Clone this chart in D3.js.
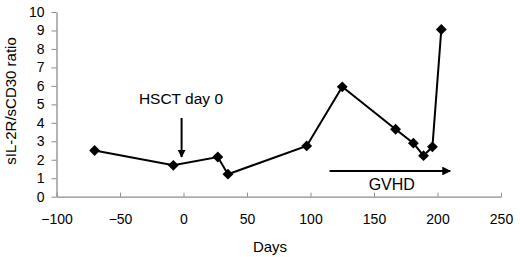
<!DOCTYPE html>
<html>
<head>
<meta charset="utf-8">
<script src="https://cdn.jsdelivr.net/npm/d3@7.9.0/dist/d3.min.js"></script>
<style>
  body { margin: 0; background: #fff; }
  svg { display: block; font-family: Arial, "Liberation Sans", sans-serif; }
</style>
</head>
<body>
<div id="chart"></div>
<script>
const days = [-70, -8, 27, 35, 97, 125, 167, 181, 189, 196, 203];
const ratios = [2.5, 1.7, 2.15, 1.22, 2.75, 5.95, 3.65, 2.9, 2.22, 2.7, 9.05];
const xTicks = [-100, -50, 0, 50, 100, 150, 200, 250];
const yTicks = [0, 1, 2, 3, 4, 5, 6, 7, 8, 9, 10];

const W = 520, H = 257;
const svg = d3.select("#chart").append("svg")
    .attr("width", W)
    .attr("height", H);

const x = d3.scaleLinear().domain([-100, 250]).range([56.5, 501]);
const y = d3.scaleLinear().domain([0, 10]).range([196.7, 12]);

const axisColor = "#8c8c8c";

// x axis (ticks point inward)
const gx = svg.append("g")
    .attr("transform", `translate(0,${y(0)})`)
    .call(d3.axisBottom(x).tickValues(xTicks).tickSizeInner(-4).tickSizeOuter(0)
        .tickFormat(d => d < 0 ? "\u2212" + Math.abs(d) : d));
gx.select(".domain").attr("stroke", axisColor).attr("stroke-width", 1.3);
gx.selectAll(".tick line").attr("stroke", axisColor);
gx.selectAll(".tick text")
    .attr("fill", "#000")
    .attr("y", 17)
    .style("font-size", "14px");

// y axis
const gy = svg.append("g")
    .attr("transform", `translate(${x(-100)},0)`)
    .call(d3.axisLeft(y).tickValues(yTicks).tickSizeInner(5).tickSizeOuter(0));
gy.select(".domain").attr("stroke", axisColor).attr("stroke-width", 1.3);
gy.selectAll(".tick line").attr("stroke", axisColor);
gy.selectAll(".tick text")
    .attr("fill", "#000")
    .attr("x", -12)
    .style("font-size", "14px");

// axis titles
svg.append("text")
    .attr("x", 270)
    .attr("y", 252)
    .attr("text-anchor", "middle")
    .style("font-size", "15px")
    .text("Days");

svg.append("text")
    .attr("transform", "rotate(-90)")
    .attr("x", -101)
    .attr("y", 16)
    .attr("text-anchor", "middle")
    .style("font-size", "15px")
    .text("sIL-2R/sCD30 ratio");

// arrow marker
svg.append("defs").append("marker")
    .attr("id", "head")
    .attr("viewBox", "0 0 10 10")
    .attr("refX", 9)
    .attr("refY", 5)
    .attr("markerWidth", 4)
    .attr("markerHeight", 4)
    .attr("orient", "auto")
    .append("path")
    .attr("d", "M0,0 L10,5 L0,10 Z")
    .attr("fill", "#000");

// HSCT day 0 annotation
svg.append("text")
    .attr("x", x(-2))
    .attr("y", 104)
    .attr("text-anchor", "middle")
    .style("font-size", "15.5px")
    .text("HSCT day 0");

svg.append("line")
    .attr("x1", x(-1.5)).attr("x2", x(-1.5))
    .attr("y1", 118).attr("y2", 157)
    .attr("stroke", "#000")
    .attr("stroke-width", 2)
    .attr("marker-end", "url(#head)");

// GVHD annotation
svg.append("line")
    .attr("x1", x(115)).attr("x2", x(210))
    .attr("y1", 171).attr("y2", 171)
    .attr("stroke", "#000")
    .attr("stroke-width", 2.2)
    .attr("marker-end", "url(#head)");

svg.append("text")
    .attr("x", x(164))
    .attr("y", 190)
    .attr("text-anchor", "middle")
    .style("font-size", "16px")
    .text("GVHD");

// data line
const pts = days.map((d, i) => [d, ratios[i]]);
svg.append("path")
    .datum(pts)
    .attr("fill", "none")
    .attr("stroke", "#000")
    .attr("stroke-width", 2)
    .attr("d", d3.line().x(d => x(d[0])).y(d => y(d[1])));

svg.selectAll("path.pt")
    .data(pts)
    .enter()
    .append("path")
    .attr("class", "pt")
    .attr("transform", d => `translate(${x(d[0])},${y(d[1])})`)
    .attr("d", d3.symbol().type(d3.symbolDiamond2).size(75))
    .attr("fill", "#000");
</script>
</body>
</html>
